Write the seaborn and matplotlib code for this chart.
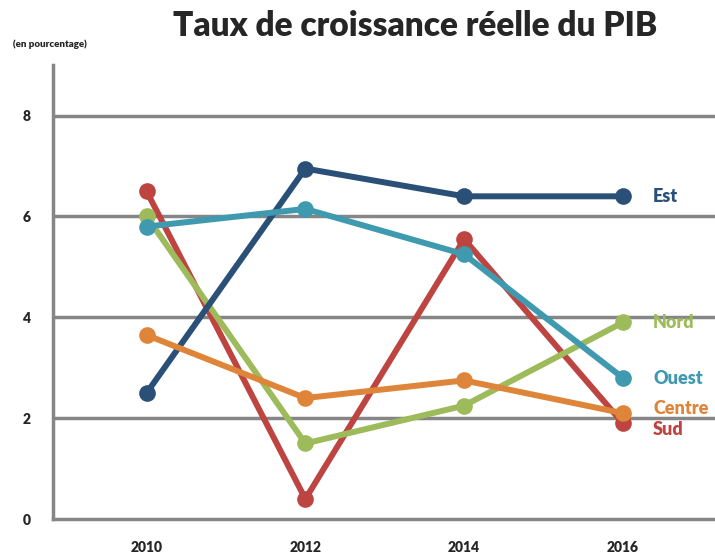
import pandas as pd
import matplotlib.pyplot as plt
import seaborn as sns

# Data
years = ['2010', '2012', '2014', '2016']
regions = ['Sud', 'Nord', 'Est', 'Centre', 'Ouest']
sud = [6.5, 0.4, 5.55, 1.9]
nord = [6.0, 1.5, 2.25, 3.9]
est = [2.5, 6.95, 6.4, 6.4]
centre = [3.65, 2.4, 2.75, 2.1]
ouest = [5.8, 6.15, 5.25, 2.8]
colors = ['#BE4441', '#9DBB5A', '#2A5078', '#DE8539', '#3F9AB0']

series = [sud, nord, est, centre, ouest]
df = pd.DataFrame({
    'x': list(range(len(years))) * len(regions),
    'val': [v for s in series for v in s],
    'region': [r for r in regions for _ in years],
})

sns.set_style('white')
plt.rcParams['font.family'] = ['Lato', 'DejaVu Sans']

fig = plt.figure(figsize=(7.15, 5.57), dpi=100)
ax = fig.add_axes([0.074, 0.068, 0.926, 0.815])

sns.lineplot(data=df, x='x', y='val', hue='region', hue_order=regions,
             palette=colors, marker='o', markersize=12, markeredgewidth=0,
             linewidth=4.3, legend=False, ax=ax, zorder=3)

# Labels at the right end of each line
label_y = {'Est': 6.4, 'Nord': 3.9, 'Ouest': 2.78, 'Centre': 2.2, 'Sud': 1.78}
for r, c in zip(regions, colors):
    ax.text(3.19, label_y[r], r, color=c, fontsize=13, fontweight='heavy',
            va='center', ha='left')

ax.set_xlim(-0.59, 3.58)
ax.set_ylim(0, 9)
ax.set_xticks(range(len(years)))
ax.set_xticklabels(years)
ax.set_yticks([0, 2, 4, 6, 8])
ax.set_xlabel('')
ax.set_ylabel('')

for y in [2, 4, 6, 8]:
    ax.axhline(y, color='#868686', linewidth=2.5, zorder=1)

for s in ['top', 'right']:
    ax.spines[s].set_visible(False)
for s in ['left', 'bottom']:
    ax.spines[s].set_color('#868686')
    ax.spines[s].set_linewidth(2.5)

ax.tick_params(axis='x', direction='out', length=8, width=2.5, color='#868686',
               labelsize=10, pad=8)
ax.tick_params(axis='y', direction='out', length=4, width=2.5, color='#868686',
               labelsize=10, pad=12)
for lab in ax.get_xticklabels() + ax.get_yticklabels():
    lab.set_fontweight('heavy')

fig.text(0.018, 0.92, '(en pourcentage)', fontsize=7, fontweight='heavy', ha='left', va='center')
fig.text(0.58, 0.953, 'Taux de croissance réelle du PIB', fontsize=24,
         fontweight='heavy', ha='center', va='center')

fig.savefig('out.png', dpi=100)
